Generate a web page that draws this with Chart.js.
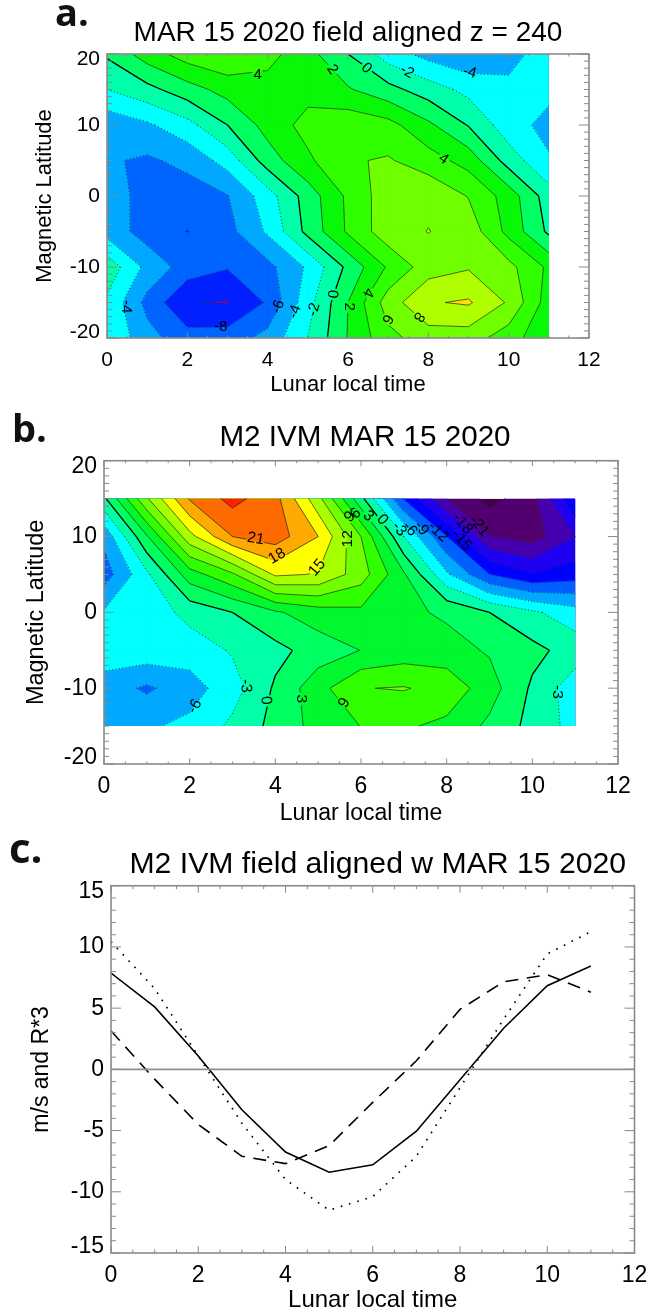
<!DOCTYPE html>
<html>
<head>
<meta charset="utf-8">
<title>MAR 15 2020</title>
<script src="https://cdn.jsdelivr.net/npm/chart.js@4/dist/chart.umd.min.js"></script>
<style>
    html, body { margin: 0; padding: 0; background: #fff; }
    #page { position: relative; width: 651px; height: 1312px; overflow: hidden; }
    canvas { position: absolute; left: 0; }
    .panel-tag { position: absolute; font-family: "Open Sans", sans-serif; font-weight: 700; line-height: 1; color: #111; }
</style>
</head>
<body>
<div id="page">
    <canvas id="panelA" width="651" height="400" style="top:0"></canvas>
    <canvas id="panelB" width="651" height="420" style="top:405px"></canvas>
    <!-- wider than the page so the "12" label does not squeeze the plot -->
    <canvas id="panelC" width="700" height="487" style="top:825px"></canvas>
    <div class="panel-tag" style="left:55px;top:-8px;font-size:38px">a.</div>
    <div class="panel-tag" style="left:12px;top:408px;font-size:38px">b.</div>
    <div class="panel-tag" style="left:9px;top:826px;font-size:42px">c.</div>
</div>
<script>
const hours = [0, 1, 2, 3, 4, 5, 6, 7, 8, 9, 10, 11];

// panel a: field aligned z = 240
const latA = [20, 15, 10, 5, 0, -5, -10, -15, -20];
const fieldA = [
    [0.3, 3, 5, 5.83, 4.7, 2.7, 0, -3, -4.7, -5.7, -5, -2.6],
    [-2, -0.62, 1.14, 2.78, 3.2, 3.28, 2.2, 0.66, -1.03, -2.6, -3.33, -3.5],
    [-5.4, -4.32, -2.67, 0, 2.78, 4.72, 5.4, 4.7, 2.4, -0.13, -3.2, -4.6],
    [-5.75, -6.32, -5.44, -3.2, 1, 3.63, 5.8, 6.2, 4.93, 3.2, -0.9, -3.8],
    [-4.94, -6.8, -7, -6.1, -2.9, 0.92, 4.4, 7.15, 7.6, 5.9, 3.1, -1.05],
    [-4.8, -6.9, -8.05, -6.7, -3.7, 0.6, 4.3, 7.2, 8.05, 7.2, 3.4, -0.4],
    [-0.7, -4.6, -6.93, -7.86, -6.6, -3.7, 0.5, 4.27, 7.06, 7.8, 6.6, 3.6],
    [-2.4, -6.6, -9.9, -10.15, -7.76, -2.76, 2, 7, 9.82, 10.25, 7.75, 3],
    [-2.2, -5.3, -7.2, -7.08, -5.33, -2, 2.1, 5.4, 7, 6.95, 4.95, 2.3]
];
const levelsA = [-10, -8, -6, -4, -2, 0, 2, 4, 6, 8, 10];
const colorsA = ["#5a10c0", "#0020ff", "#0064ff", "#00a8ff", "#00ffff", "#00ffaa", "#00ff60", "#08f808", "#30ff00", "#70ff00", "#b0ff00", "#ffe000"];
const labelsA = [
    ["4", 3.75, 17, 0], ["2", 5.61, 17.8, 55], ["0", 6.46, 18, 45], ["-2", 7.47, 17.5, 30], ["-4", 9.03, 17.4, 15],
    ["4", 8.38, 5.2, 35], ["-4", 0.47, -15.6, 90], ["-8", 2.83, -18.4, 0], ["-6", 4.26, -15.6, -70],
    ["-4", 4.68, -16.3, -70], ["-2", 5.15, -16, -75], ["0", 5.61, -13.8, 95], ["2", 6.03, -15.6, 90],
    ["4", 6.5, -13.6, 115], ["6", 6.98, -17.3, 120], ["8", 7.76, -17, 125]
];

// panel b: M2 IVM
const latB = [15, 10, 5, 0, -5, -10, -15];
const fieldB = [
    [-0.6, 11.7, 21.3, 25, 22, 13, 0.9, -12.2, -21.1, -25, -22.2, -12.3],
    [-8.3, 2.7, 14, 21, 22.5, 18, 9, -3, -12, -21, -22.4, -18],
    [-10.5, -3.6, 4.6, 8.5, 15.5, 14.8, 10.4, 3.4, -5.5, -12, -14.8, -13.5],
    [-5.7, -4.86, -2, 0, 2.6, 4.6, 5.3, 3.7, 2.5, 0, -2.5, -4.7],
    [-4.3, -4, -4.6, -2.7, -0.9, 1.35, 3.05, 4.25, 4.17, 2.67, 0.88, -1.32],
    [-7.4, -9.5, -7.3, -4.3, 0.45, 4.92, 8.9, 9.2, 8, 4.35, -0.49, -4.8],
    [-7, -6.4, -5.3, -2.35, 0.96, 4.1, 6.06, 6.39, 5.27, 2.36, -0.96, -4.1]
];
const levelsB = [-24, -21, -18, -15, -12, -9, -6, -3, 0, 3, 6, 9, 12, 15, 18, 21, 24];
const colorsB = ["#40004c", "#520070", "#4600b0", "#2000f0", "#0000ff", "#0060ff", "#00a8ff", "#00ffff", "#00ffa8", "#00ff60", "#00f82c", "#30ff00", "#70ff00", "#a8ff00", "#ffff00", "#ffaa00", "#ff6a00", "#ff2000"];
const labelsB = [
    ["21", 3.54, 9.7, 10], ["18", 4.04, 7.4, -30], ["15", 4.98, 5.9, -50], ["12", 5.7, 9.7, -90],
    ["9", 5.74, 12.6, -45], ["6", 5.88, 13, -45], ["3", 6.17, 12.7, 45], ["0", 6.5, 12.2, 50],
    ["-3", 6.89, 11, 50], ["-6", 7.14, 11, 50], ["-9", 7.41, 11.1, 50], ["-12", 7.8, 10.6, 45],
    ["-15", 8.35, 9.5, 50], ["-18", 8.37, 11.7, 50], ["-21", 8.76, 11.4, 50],
    ["-3", 3.31, -9.7, 85], ["-6", 2.12, -12.4, -60], ["0", 3.78, -11.6, 85], ["3", 4.6, -11.4, 90],
    ["6", 5.57, -11.8, 120], ["-3", 10.58, -10.5, 90]
];

// panel c: field aligned w
const solidW = [7.87, 5.1, 1.1, -3.3, -6.75, -8.4, -7.8, -5.05, -0.84, 3.36, 6.83, 8.44];
const dottedW = [10.43, 6.6, 1.1, -4.4, -9, -11.5, -10.4, -7.1, -1.5, 4.1, 9.43, 11.25];
const dashedW = [3.14, -0.8, -4.5, -7.1, -7.7, -6.23, -2.7, 0.7, 4.9, 7.15, 7.73, 6.3];

const timeTicks = [0, 2, 4, 6, 8, 10, 12];
const latTicks = [20, 10, 0, -10, -20];
const speedTicks = [15, 10, 5, 0, -5, -10, -15];

const FONT = '"Liberation Sans", Arial, sans-serif';
const FRAME_COLOR = "#8a8a8a";

function clipToLevel(poly, level) {
    const out = [];
    for (let i = 0; i < poly.length; i++) {
        const a = poly[i];
        const b = poly[(i + 1) % poly.length];
        if (a.z >= level) out.push(a);
        if ((a.z >= level) !== (b.z >= level)) {
            const t = (level - a.z) / (b.z - a.z);
            out.push({ x: a.x + t * (b.x - a.x), y: a.y + t * (b.y - a.y), z: level, cut: true });
        }
    }
    return out;
}

function cellsOf(rows, lats) {
    const cells = [];
    for (let r = 0; r < lats.length - 1; r++) {
        for (let c = 0; c < hours.length - 1; c++) {
            cells.push([
                { x: hours[c], y: lats[r], z: rows[r][c] },
                { x: hours[c + 1], y: lats[r], z: rows[r][c + 1] },
                { x: hours[c + 1], y: lats[r + 1], z: rows[r + 1][c + 1] },
                { x: hours[c], y: lats[r + 1], z: rows[r + 1][c] }
            ]);
        }
    }
    return cells;
}

// filled bands and contour lines, drawn through the chart's own scales
function contourPlugin(rows, lats, levels, colors, labels, labelSize) {
    return {
        id: "contour",
        beforeDatasetsDraw(chart) {
            const { ctx, scales: { x, y } } = chart;
            const px = p => [x.getPixelForValue(p.x), y.getPixelForValue(p.y)];
            const cells = cellsOf(rows, lats);
            const left = x.getPixelForValue(hours[0]);
            const right = x.getPixelForValue(hours[hours.length - 1]);
            const top = y.getPixelForValue(lats[0]);
            const bottom = y.getPixelForValue(lats[lats.length - 1]);

            ctx.save();
            ctx.beginPath();
            ctx.rect(left, top, right - left, bottom - top);
            ctx.clip();
            ctx.fillStyle = colors[0];
            ctx.fillRect(left, top, right - left, bottom - top);
            levels.forEach((level, i) => {
                ctx.fillStyle = colors[i + 1];
                ctx.strokeStyle = colors[i + 1];
                ctx.lineWidth = 0.6;
                cells.forEach(cell => {
                    const poly = clipToLevel(cell, level);
                    if (poly.length < 3) return;
                    ctx.beginPath();
                    poly.forEach((p, k) => {
                        const [a, b] = px(p);
                        if (k === 0) ctx.moveTo(a, b); else ctx.lineTo(a, b);
                    });
                    ctx.closePath();
                    ctx.fill();
                    ctx.stroke();
                });
            });
            ctx.restore();

            // leave a gap in the lines around each label
            ctx.save();
            ctx.beginPath();
            ctx.rect(0, 0, chart.width, chart.height);
            ctx.font = labelSize + "px " + FONT;
            labels.forEach(([text, lx, ly]) => {
                const r = Math.max(ctx.measureText(text).width / 2 + 1, labelSize * 0.42);
                const cx = x.getPixelForValue(lx);
                const cy = y.getPixelForValue(ly);
                ctx.moveTo(cx + r, cy);
                ctx.arc(cx, cy, r, 0, Math.PI * 2);
            });
            ctx.clip("evenodd");

            levels.forEach(level => {
                if (level === 0) {
                    ctx.strokeStyle = "#000";
                    ctx.lineWidth = 1.3;
                    ctx.setLineDash([]);
                } else if (level < 0) {
                    ctx.strokeStyle = "#17303a";
                    ctx.lineWidth = 0.9;
                    ctx.setLineDash([1, 2.4]);
                } else {
                    ctx.strokeStyle = "#1d3a1d";
                    ctx.lineWidth = 0.75;
                    ctx.setLineDash([]);
                }
                cells.forEach(cell => {
                    const cuts = clipToLevel(cell, level).filter(p => p.cut);
                    for (let k = 0; k + 1 < cuts.length; k += 2) {
                        const [a, b] = px(cuts[k]);
                        const [c, d] = px(cuts[k + 1]);
                        ctx.beginPath();
                        ctx.moveTo(a, b);
                        ctx.lineTo(c, d);
                        ctx.stroke();
                    }
                });
            });
            ctx.restore();

            ctx.save();
            ctx.fillStyle = "#000";
            ctx.font = labelSize + "px " + FONT;
            ctx.textAlign = "center";
            ctx.textBaseline = "middle";
            labels.forEach(([text, lx, ly, angle]) => {
                ctx.save();
                ctx.translate(x.getPixelForValue(lx), y.getPixelForValue(ly));
                ctx.rotate(angle * Math.PI / 180);
                ctx.fillText(text, 0, 0);
                ctx.restore();
            });
            ctx.restore();
        }
    };
}

// IDL style frame: ticks point inward on all four sides
function framePlugin(cfg) {
    return {
        id: "frame",
        afterLayout(chart) {
            // titles in the original sit a little right of the plot centre
            chart.titleBlock.left += cfg.titleShift;
            chart.titleBlock.right += cfg.titleShift;
        },
        afterDatasetsDraw(chart) {
            const { ctx, chartArea: area, scales: { x, y } } = chart;
            ctx.save();
            ctx.strokeStyle = FRAME_COLOR;
            ctx.lineWidth = 1;
            ctx.beginPath();
            for (let v = x.min; v <= x.max; v += 0.5) {
                const p = x.getPixelForValue(v);
                const len = v % 2 === 0 ? cfg.xMajor : cfg.xMinor;
                ctx.moveTo(p, area.bottom);
                ctx.lineTo(p, area.bottom - len);
                ctx.moveTo(p, area.top);
                ctx.lineTo(p, area.top + len);
            }
            for (let v = y.min; v <= y.max; v += 1) {
                const p = y.getPixelForValue(v);
                const len = v % cfg.yStep === 0 ? cfg.yMajor : cfg.yMinor;
                ctx.moveTo(area.left, p);
                ctx.lineTo(area.left + len, p);
                ctx.moveTo(area.right, p);
                ctx.lineTo(area.right - len, p);
            }
            ctx.stroke();
            ctx.lineWidth = 1.6;
            ctx.strokeRect(area.left, area.top, area.right - area.left, area.bottom - area.top);
            ctx.restore();
        }
    };
}

function buildOptions(o) {
    const font = size => ({ family: FONT, size, weight: "normal" });
    return {
        responsive: false,
        animation: false,
        layout: { padding: { left: 0, right: o.width - o.right, top: 0, bottom: 0 } },
        plugins: {
            legend: { display: false },
            tooltip: { enabled: false },
            title: {
                display: true,
                text: o.title,
                fullSize: false,
                color: "#000",
                font: font(o.titleSize),
                padding: { top: o.titleTop, bottom: o.titleBottom }
            }
        },
        scales: {
            x: {
                type: "linear",
                min: 0,
                max: 12,
                afterFit: s => { s.height = o.xAxisHeight; },
                afterBuildTicks: s => { s.ticks = timeTicks.map(value => ({ value })); },
                grid: { display: false, drawTicks: false },
                border: { display: false },
                ticks: { color: "#000", font: font(o.tickSize), padding: o.xPad, maxRotation: 0, autoSkip: false },
                title: {
                    display: true,
                    text: "Lunar local time",
                    color: "#000",
                    font: { family: FONT, size: o.xTitleSize, lineHeight: 1 },
                    padding: { top: 0, bottom: o.xTitleBottom }
                }
            },
            y: {
                type: "linear",
                min: o.yMin,
                max: o.yMax,
                afterFit: s => { s.width = o.left; },
                // the two end labels sit just inside the frame
                afterBuildTicks: s => {
                    s.ticks = o.yTicks.map(v => ({
                        value: v === o.yMax ? v - o.endShift : v === o.yMin ? v + o.endShift : v
                    }));
                },
                grid: { display: false, drawTicks: false },
                border: { display: false },
                ticks: {
                    color: "#000",
                    font: font(o.tickSize),
                    padding: 7,
                    autoSkip: false,
                    callback: (value, index) => String(o.yTicks[index])
                },
                title: {
                    display: true,
                    text: o.yTitle,
                    color: "#000",
                    font: { family: FONT, size: o.yTitleSize, lineHeight: 1 },
                    padding: { top: o.yTitleOffset, bottom: 0 }
                }
            }
        }
    };
}

function gridPoints(rows, lats) {
    const points = [];
    lats.forEach((lat, r) => hours.forEach((h, c) => points.push({ x: h, y: lat, z: rows[r][c] })));
    return points;
}

new Chart(document.getElementById("panelA"), {
    type: "scatter",
    data: { datasets: [{ label: "field aligned z = 240", data: gridPoints(fieldA, latA), pointRadius: 0 }] },
    options: buildOptions({
        width: 651,
        title: "MAR 15 2020 field aligned z = 240", titleSize: 28, titleTop: 16.2, titleBottom: 4.2,
        right: 589, left: 107, xAxisHeight: 62, tickSize: 21, xPad: 10,
        xTitleSize: 22, xTitleBottom: 4, yMin: -20, yMax: 20, yTicks: latTicks, endShift: 0.8,
        yTitle: "Magnetic Latitude", yTitleSize: 22, yTitleOffset: 34
    }),
    plugins: [
        contourPlugin(fieldA, latA, levelsA, colorsA, labelsA, 15),
        framePlugin({ titleShift: 0, xMajor: 5.5, xMinor: 2.5, yMajor: 10, yMinor: 5, yStep: 10 })
    ]
});

new Chart(document.getElementById("panelB"), {
    type: "scatter",
    data: { datasets: [{ label: "M2 IVM", data: gridPoints(fieldB, latB), pointRadius: 0 }] },
    options: buildOptions({
        width: 651,
        title: "M2 IVM MAR 15 2020", titleSize: 29.6, titleTop: 15.2, titleBottom: 5.0,
        right: 618, left: 104, xAxisHeight: 61, tickSize: 23, xPad: 9,
        xTitleSize: 23, xTitleBottom: 0, yMin: -20, yMax: 20, yTicks: latTicks, endShift: 0.8,
        yTitle: "Magnetic Latitude", yTitleSize: 23.5, yTitleOffset: 25
    }),
    plugins: [
        contourPlugin(fieldB, latB, levelsB, colorsB, labelsB, 15.5),
        framePlugin({ titleShift: 4, xMajor: 5.5, xMinor: 2.5, yMajor: 10, yMinor: 5, yStep: 10 })
    ]
});

const seriesPoints = values => values.map((v, i) => ({ x: hours[i], y: v }));

new Chart(document.getElementById("panelC"), {
    type: "scatter",
    data: {
        datasets: [
            { label: "zero", data: [{ x: 0, y: 0 }, { x: 12, y: 0 }], showLine: true, pointRadius: 0, borderColor: "#8f8f8f", borderWidth: 1.6 },
            { label: "w", data: seriesPoints(solidW), showLine: true, pointRadius: 0, borderColor: "#000", borderWidth: 1.6 },
            { label: "R*3", data: seriesPoints(dottedW), showLine: true, pointRadius: 0, borderColor: "#000", borderWidth: 1.7, borderDash: [1.6, 7] },
            { label: "model", data: seriesPoints(dashedW), showLine: true, pointRadius: 0, borderColor: "#000", borderWidth: 1.6, borderDash: [13, 8.5] }
        ]
    },
    options: buildOptions({
        width: 700,
        title: "M2 IVM field aligned w MAR 15 2020", titleSize: 30.2, titleTop: 21.8, titleBottom: 2.7,
        right: 634.5, left: 111, xAxisHeight: 59, tickSize: 23, xPad: 9,
        xTitleSize: 24, xTitleBottom: 0, yMin: -15, yMax: 15, yTicks: speedTicks, endShift: 0.5,
        yTitle: "m/s and R*3", yTitleSize: 23, yTitleOffset: 30
    }),
    plugins: [framePlugin({ titleShift: 5, xMajor: 7, xMinor: 3.5, yMajor: 10, yMinor: 5, yStep: 5 })]
});
</script>
</body>
</html>
